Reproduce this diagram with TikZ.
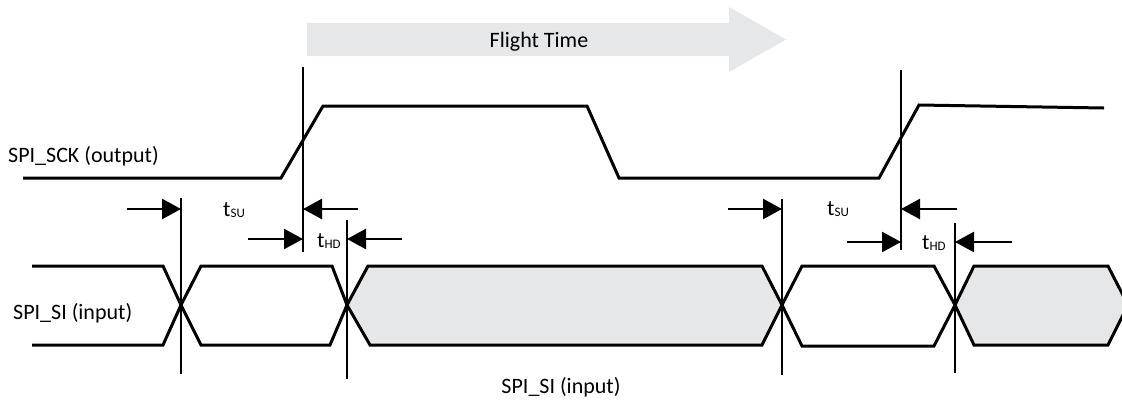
\documentclass[tikz,border=0pt]{standalone}
\usepackage{fontspec}
\setmainfont{Carlito}
\usepackage{tikz}
\usetikzlibrary{arrows.meta}
\definecolor{lightgrey}{HTML}{E6E7E8}
\newcommand{\tlabel}[1]{t\raisebox{-1.5pt}{\fontsize{13}{13}\selectfont #1}}

\begin{document}
\begin{tikzpicture}[x = 1pt, y = -1pt,
  wave/.style = {line width = 3pt, line join = miter},
  marker/.style = {line width = 2.2pt},
  dim/.style = {line width = 2.5pt, -{Triangle[length = 19pt, width = 20pt]}},
  lbl/.style = {inner sep = 0, anchor = base west, font = \fontsize{22}{26}\selectfont}]
 \useasboundingbox (0, 0) rectangle (1122, 400);
 \clip (0, 0) rectangle (1122, 400);
  % flight time arrow
  \fill [lightgrey] (307, 23) -- (729, 23) -- (729, 7) -- (786, 39.5) -- (729, 72) -- (729, 56) -- (307, 56) -- cycle;
  \node [lbl, anchor = base] (flight) at (539, 47) {Flight Time};
  % clock
  \node [lbl] (sck) at (8, 162) {SPI\_SCK (output)};
  \draw [wave] (23, 178) -- (281, 178) -- (323, 106) -- (587, 106) -- (619, 178) -- (879, 178) -- (919, 105) -- (1104, 108);
  % data
  \node [lbl] (si) at (13, 319) {SPI\_SI (input)};
  \node [lbl, anchor = base] (sib) at (561, 393) {SPI\_SI (input)};
  \draw [wave] (32, 266) -- (163, 266) -- (181, 305) -- (163, 345) -- (32, 345);
  \draw [wave] (181, 305) -- (201, 266) -- (332, 266) -- (347, 305) -- (330, 345) -- (201, 345) -- cycle;
  \draw [wave, fill = lightgrey] (347, 305) -- (368, 266) -- (762, 266) -- (782, 305) -- (762, 345) -- (370, 345) -- cycle;
  \draw [wave] (782, 305) -- (802, 266) -- (934, 266) -- (955, 305) -- (934, 346) -- (802, 346) -- cycle;
  \draw [wave, fill = lightgrey] (955, 305) -- (974, 266) -- (1108, 266) -- (1128, 305) -- (1108, 345) -- (974, 345) -- cycle;
  % timing markers
  \coordinate (su1) at (181, 209); \coordinate (ck1) at (303, 209); \coordinate (ck1b) at (303, 239); \coordinate (hd1) at (347, 239);
  \coordinate (su2) at (782, 209); \coordinate (ck2) at (901, 209); \coordinate (ck2b) at (901, 242); \coordinate (hd2) at (955, 242);
  \draw [marker] (181, 198) -- (181, 374);
  \draw [marker] (303, 67) -- (303, 252);
  \draw [marker] (347, 220) -- (347, 379);
  \draw [marker] (782, 199) -- (782, 375);
  \draw [marker] (901, 70) -- (901, 250);
  \draw [marker] (955, 223) -- (955, 373);
  \draw [dim] (127, 209) -- (su1);
  \draw [dim] (358, 209) -- (ck1);
  \draw [dim] (248, 239) -- (ck1b);
  \draw [dim] (402, 239) -- (hd1);
  \draw [dim] (728, 209) -- (su2);
  \draw [dim] (957, 209) -- (ck2);
  \draw [dim] (847, 242) -- (ck2b);
  \draw [dim] (1012, 242) -- (hd2);
  \node [lbl] (tsu1) at (223, 216) {\tlabel{SU}};
  \node [lbl] (thd1) at (317, 247) {\tlabel{HD}};
  \node [lbl] (tsu2) at (827, 215) {\tlabel{SU}};
  \node [lbl] (thd2) at (922, 249) {\tlabel{HD}};
 \end{tikzpicture}
\end{document}
